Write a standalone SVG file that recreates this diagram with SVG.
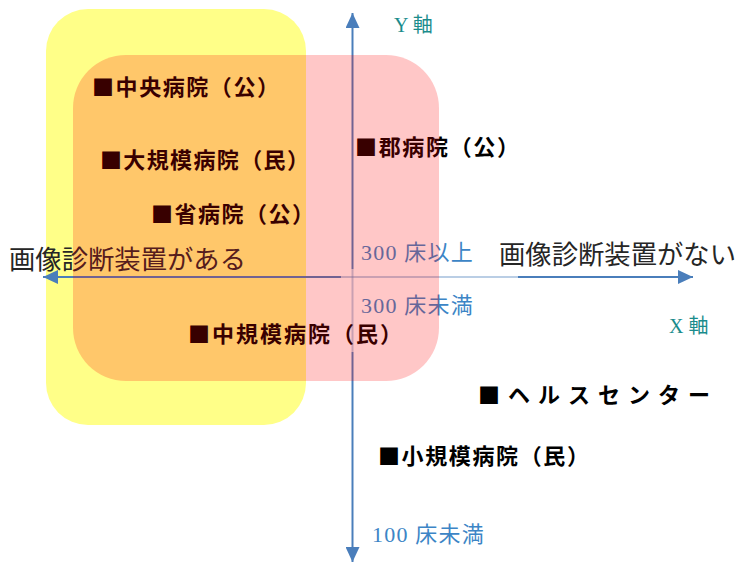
<svg xmlns="http://www.w3.org/2000/svg" width="739" height="563" viewBox="0 0 739 563">
<defs>
<style>
.lbl{font-family:"Noto Sans CJK JP",sans-serif;font-weight:bold;font-size:22px;fill:#000}
.ax{font-family:"Liberation Serif","Noto Sans CJK JP",serif;font-size:26.3px;fill:#262626}
.bed{font-family:"Liberation Serif","Noto Sans CJK JP",serif;font-size:22px;letter-spacing:1.2px;fill:#3C85C6}
.axn{font-family:"Liberation Serif","Noto Sans CJK JP",serif;font-size:20px;fill:#1A8C8C}
.axis{stroke:#4A7EBB;stroke-width:2;fill:none}
.axisl{stroke:#4A7EBB;stroke-opacity:0.38;stroke-width:2;fill:none}
</style>
<marker id="ah" markerWidth="15" markerHeight="14" refX="15" refY="7" orient="auto" markerUnits="userSpaceOnUse">
<path d="M0,0 L15,7 L0,14 Z" fill="#4A7EBB"/>
</marker>
</defs>
<rect width="739" height="563" fill="#fff"/>
<rect id="region-has-imaging" x="46" y="9" width="260" height="416" rx="42" ry="42" fill="#FFFF88"/>
<g id="connectors">
<line class="axis" x1="352.5" y1="269" x2="352.5" y2="13" marker-end="url(#ah)"/>
<line class="axisl" x1="352.5" y1="269" x2="352.5" y2="352"/>
<line class="axis" x1="352.5" y1="352" x2="352.5" y2="562" marker-end="url(#ah)"/>
<line class="axis" x1="341" y1="277" x2="43" y2="277" marker-end="url(#ah)"/>
<line class="axisl" x1="341" y1="277" x2="518" y2="277"/>
<line class="axis" x1="518" y1="277" x2="693" y2="277" marker-end="url(#ah)"/>
</g>
<g id="axis-labels">
<text class="axn" x="394" y="32">Y 軸</text>
<text class="axn" x="669" y="333">X 軸</text>
<text class="ax" x="9" y="269" textLength="237" lengthAdjust="spacing">画像診断装置がある</text>
<text class="ax" x="499" y="264" textLength="237" lengthAdjust="spacing">画像診断装置がない</text>
<text class="bed" x="361" y="260">300 床以上</text>
<text class="bed" x="361" y="313">300 床未満</text>
<text class="bed" x="372" y="542">100 床未満</text>
</g>
<g id="central-hospital"><text class="lbl" x="92" y="94.5" textLength="187" lengthAdjust="spacing">■中央病院（公）</text></g>
<g id="large-private"><text class="lbl" x="100" y="167.5" textLength="209" lengthAdjust="spacing">■大規模病院（民）</text></g>
<g id="provincial-hospital"><text class="lbl" x="151" y="222" textLength="163" lengthAdjust="spacing">■省病院（公）</text></g>
<g id="district-hospital"><text class="lbl" x="355" y="154.5" textLength="164" lengthAdjust="spacing">■郡病院（公）</text></g>
<g id="medium-private"><text class="lbl" x="188" y="341.5" textLength="214" lengthAdjust="spacing">■中規模病院（民）</text></g>
<g id="health-center"><text class="lbl" x="478" y="403" letter-spacing="8">■ヘルスセンター</text></g>
<g id="small-private"><text class="lbl" x="378" y="464" textLength="211" lengthAdjust="spacing">■小規模病院（民）</text></g>
<rect id="region-300-beds" x="73" y="55" width="366" height="326" rx="53" ry="53" fill="#FF0000" fill-opacity="0.22"/>
</svg>
